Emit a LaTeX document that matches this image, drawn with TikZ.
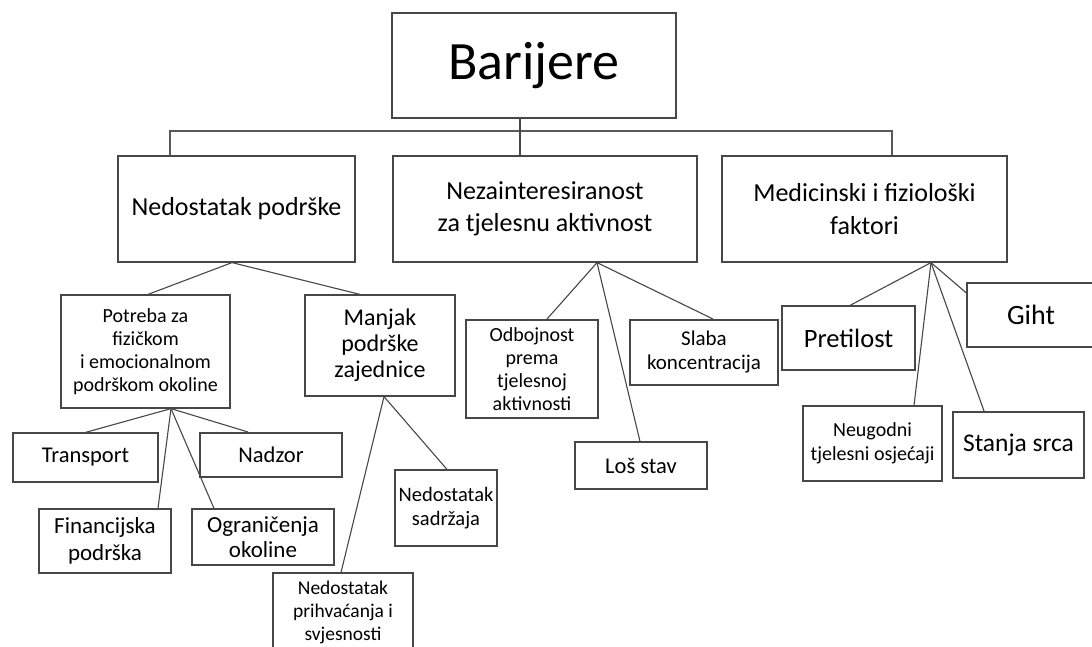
\documentclass[tikz,border=0pt]{standalone}
\usepackage{fontspec}
\setmainfont{Carlito}
\newcommand\fsz[2]{\fontsize{#1pt}{#2pt}\selectfont}
\begin{document}
\begin{tikzpicture}[x=1pt,y=-1pt,
  box/.style={draw=black!72, line width=1.2pt, inner sep=0pt, align=center, fill=white},
  boldbox/.style={box, line width=2pt},
  conn/.style={draw=black!72, line width=1.1pt},
  bus/.style={draw=black!65, line width=1.6pt}]
\clip (0,0) rectangle (1092,646);
\fill[white] (0,0) rectangle (1092,646);
% level 1
\node[box, minimum width=284pt, minimum height=105pt, font=\fsz{54}{60}] (bar) at (534,65.5) {Barijere};
% level 2
\node[box, minimum width=237pt, minimum height=106pt, font=\fsz{26}{32}] (nd) at (236.5,209) {Nedostatak podrške};
\node[box, minimum width=304pt, minimum height=106pt, font=\fsz{26}{32}] (nz) at (545,209) {Nezainteresiranost\\ za tjelesnu aktivnost};
\node[box, minimum width=285pt, minimum height=106pt, font=\fsz{26}{33}] (md) at (864.5,209) {Medicinski i fiziološki\\ faktori};
% level 3 left
\node[box, minimum width=169pt, minimum height=113pt, font=\fsz{20}{23}] (pot) at (145.5,351.5) {Potreba za\\ fizičkom\\ i emocionalnom\\ podrškom okoline};
\node[box, minimum width=150pt, minimum height=101pt, font=\fsz{24}{26}] (man) at (380,345.5) {Manjak\\ podrške\\ zajednice};
\node[box, minimum width=145pt, minimum height=49pt, font=\fsz{22.5}{26}] (tr) at (85.5,457.5) {Transport};
\node[boldbox, minimum width=142pt, minimum height=44pt, font=\fsz{22.5}{26}] (nad) at (271,455) {Nadzor};
\node[box, minimum width=132pt, minimum height=64pt, font=\fsz{23}{27}] (fin) at (105,541) {Financijska\\ podrška};
\node[box, minimum width=142pt, minimum height=56pt, font=\fsz{23}{25}] (ogr) at (263,537) {Ograničenja\\ okoline};
\node[box, minimum width=102pt, minimum height=76pt, font=\fsz{20.5}{24}] (sad) at (446,508) {Nedostatak\\ sadržaja};
\node[box, minimum width=140pt, minimum height=78pt, font=\fsz{19.5}{23}] (pri) at (343,612) {Nedostatak\\ prihvaćanja i\\ svjesnosti};
% level 3 middle
\node[boldbox, minimum width=132pt, minimum height=98pt, font=\fsz{20}{23}] (odb) at (532,369) {Odbojnost\\ prema\\ tjelesnoj\\ aktivnosti};
\node[boldbox, minimum width=148pt, minimum height=65pt, font=\fsz{21}{24}] (sla) at (704,352.5) {Slaba\\ koncentracija};
\node[box, minimum width=132pt, minimum height=47pt, font=\fsz{22.5}{26}] (los) at (641,465.5) {Loš stav};
% level 3 right
\node[box, minimum width=133pt, minimum height=64pt, font=\fsz{26.5}{30}] (pre) at (848.5,338) {Pretilost};
\node[box, minimum width=128pt, minimum height=64pt, font=\fsz{28}{30}] (gih) at (1031,315) {Giht};
\node[box, minimum width=139pt, minimum height=75pt, font=\fsz{20}{24}] (neu) at (872.5,443.5) {Neugodni\\ tjelesni osjećaji};
\node[boldbox, minimum width=131pt, minimum height=66pt, font=\fsz{25.5}{28}] (sta) at (1018.5,445) {Stanja srca};
% bus connectors
\coordinate (bus) at (520,131);
\draw[bus] ([xshift=-66.5pt]nd.north) |- (bus) -| ([xshift=27.5pt]md.north);
\draw[conn] ([xshift=-14pt]bar.south) -- ([xshift=-25pt]nz.north);
% tree connectors
\draw[conn] ([xshift=-4.5pt]nd.south) -- ([xshift=2.5pt]pot.north);
\draw[conn] ([xshift=-4.5pt]nd.south) -- ([xshift=-20pt]man.north);
\draw[conn] ([xshift=25.5pt]pot.south) -- (tr.north);
\draw[conn] ([xshift=25.5pt]pot.south) -- ([xshift=-23pt]nad.north);
\draw[conn] ([xshift=25.5pt]pot.south) -- ([xshift=53pt]fin.north);
\draw[conn] ([xshift=25.5pt]pot.south) -- ([xshift=-49pt]ogr.north);
\draw[conn] ([xshift=4pt]man.south) -- ([xshift=1pt]sad.north);
\draw[conn] ([xshift=4pt]man.south) -- ([xshift=-2pt]pri.north);
\draw[conn] ([xshift=52pt]nz.south) -- ([xshift=15pt]odb.north);
\draw[conn] ([xshift=52pt]nz.south) -- ([xshift=9pt]sla.north);
\draw[conn] ([xshift=52pt]nz.south) -- ([xshift=-1pt]los.north);
\draw[conn] ([xshift=66.5pt]md.south) -- ([xshift=1.5pt]pre.north);
\draw[conn] ([xshift=66.5pt]md.south) -- ([yshift=22pt]gih.west);
\draw[conn] ([xshift=66.5pt]md.south) -- ([xshift=41.5pt]neu.north);
\draw[conn] ([xshift=66.5pt]md.south) -- ([xshift=-34.5pt]sta.north);
\end{tikzpicture}
\end{document}
